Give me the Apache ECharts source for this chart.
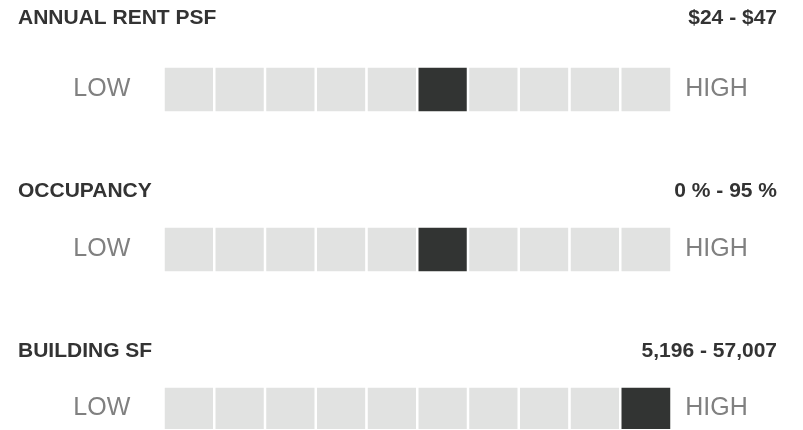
<!DOCTYPE html>
<html>
<head>
<meta charset="utf-8">
<script src="https://cdn.jsdelivr.net/npm/echarts@6/dist/echarts.min.js"></script>
<style>
  html, body { margin: 0; padding: 0; background: #fff; }
  #chart { width: 803px; height: 430px; }
</style>
</head>
<body>
<div id="chart"></div>
<script>
// data
var metrics = ['ANNUAL RENT PSF', 'OCCUPANCY', 'BUILDING SF'];
var ranges = ['$24 - $47', '0 % - 95 %', '5,196 - 57,007'];
var levels = [6, 6, 10];           // which of the 10 cells is filled (1-based)
var steps = ['1', '2', '3', '4', '5', '6', '7', '8', '9', '10'];
var lowLabel = 'LOW';
var highLabel = 'HIGH';

var chart = echarts.init(document.getElementById('chart'));

var FONT = '"Liberation Sans", Arial, sans-serif';
var titleTops = [8, 181, 341];
var gridTops = [66.75, 226.75, 386.75];

var titles = [], grids = [], xAxes = [], yAxes = [], series = [];

metrics.forEach(function (name, i) {
  titles.push({
    text: name,
    left: 18, top: titleTops[i],
    padding: 0,
    textStyle: { fontSize: 21, fontWeight: 'bold', color: '#333333', fontFamily: FONT }
  });
  titles.push({
    text: ranges[i],
    right: 26, top: titleTops[i],
    padding: 0,
    textStyle: { fontSize: 21, fontWeight: 'bold', color: '#333333', fontFamily: FONT }
  });

  grids.push({ left: 163.75, width: 507.5, top: gridTops[i], height: 45.5 });

  xAxes.push({
    type: 'category', gridIndex: i, data: steps, show: false
  });
  // LOW on the left, HIGH on the right
  yAxes.push({
    type: 'category', gridIndex: i, data: [lowLabel], position: 'left',
    axisLine: { show: false }, axisTick: { show: false }, splitLine: { show: false },
    axisLabel: { margin: 33.5, fontSize: 25, color: '#808080', fontFamily: FONT }
  });
  yAxes.push({
    type: 'category', gridIndex: i, data: [highLabel], position: 'right',
    axisLine: { show: false }, axisTick: { show: false }, splitLine: { show: false },
    axisLabel: { margin: 14, fontSize: 25, color: '#808080', fontFamily: FONT }
  });

  series.push({
    type: 'heatmap',
    xAxisIndex: i,
    yAxisIndex: i * 2,
    silent: true,
    itemStyle: { borderColor: '#ffffff', borderWidth: 2.5 },
    data: steps.map(function (s, k) {
      var on = (k + 1) === levels[i];
      return {
        value: [k, 0, on ? 1 : 0],
        itemStyle: { color: on ? '#323433' : '#e1e2e1' }
      };
    })
  });
});

chart.setOption({
  animation: false,
  title: titles,
  grid: grids,
  xAxis: xAxes,
  yAxis: yAxes,
  series: series
});
</script>
</body>
</html>
